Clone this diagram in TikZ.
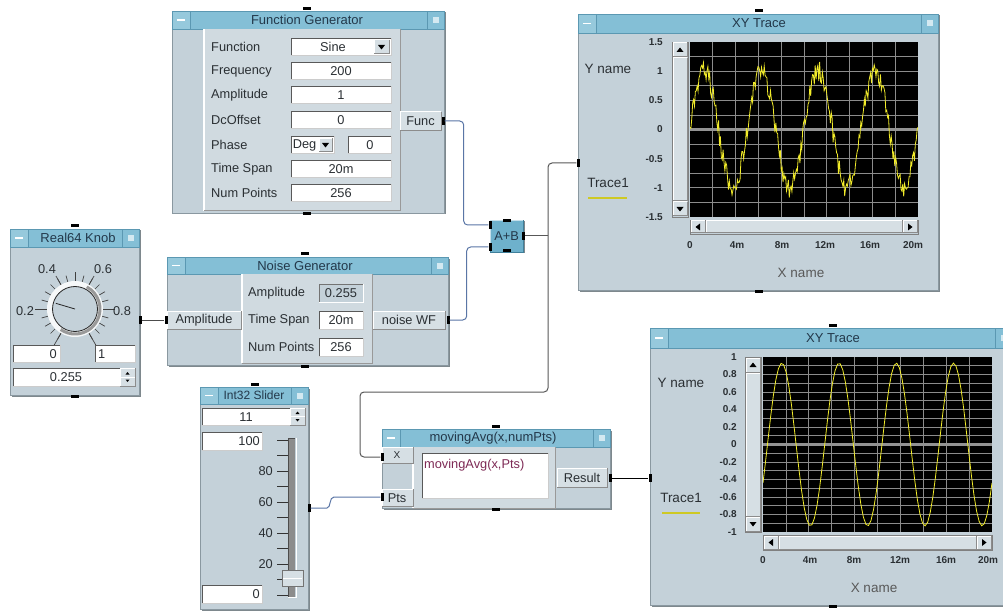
\documentclass[tikz,border=0pt]{standalone}
\usepackage{fontspec}
\setmainfont{Liberation Sans}
\usetikzlibrary{calc}
\definecolor{bodyc}{HTML}{C4D1D9}
\definecolor{panelc}{HTML}{D0DAE0}
\definecolor{btnc}{HTML}{D6DFE4}
\definecolor{titlec}{HTML}{84BFD6}
\definecolor{titleedge}{HTML}{5B98B2}
\definecolor{edgec}{HTML}{8A98A0}
\definecolor{shadc}{HTML}{7E888D}
\definecolor{wireb}{HTML}{5A76A6}
\definecolor{wirek}{HTML}{2E2E2E}
\definecolor{txtc}{HTML}{2A2F33}
\definecolor{ttlc}{HTML}{23384A}
\definecolor{trc}{HTML}{F2EC2A}
\definecolor{gridc}{HTML}{8C8C8C}
\definecolor{abfill}{HTML}{6EB1CC}
\definecolor{abedge}{HTML}{3F7F9A}
\definecolor{formc}{HTML}{7E2A55}
\tikzset{
  lbl/.style={font=\fontsize{12.8}{14}\selectfont, text=txtc, inner sep=0pt},
  big/.style={font=\fontsize{13.5}{15}\selectfont, text=txtc, inner sep=0pt},
  ttl/.style={font=\fontsize{13}{15}\selectfont, text=ttlc, inner sep=0pt},
  axl/.style={font=\bfseries\fontsize{10}{11}\selectfont, text=txtc, inner sep=0pt},
  pinv/.style={fill=black, inner sep=0pt, minimum width=3pt, minimum height=8pt},
  pinh/.style={fill=black, inner sep=0pt, minimum width=8pt, minimum height=3pt},
  wire/.style={line width=1pt, rounded corners=4pt},
}
% field: x1 y1(top) x2 y2(bottom)
\newcommand\vfield[4]{\fill[white] ({#1},{#2}) rectangle ({#3},{#4});
  \draw[black!65, line width=1pt] ({#1},{#4}) -- ({#1},{#2}) -- ({#3},{#2});
  \draw[black!20, line width=0.8pt] ({#3},{#2}) -- ({#3},{#4}) -- ({#1},{#4});}
\newcommand\vgfield[4]{\fill[bodyc] ({#1},{#2}) rectangle ({#3},{#4});
  \draw[black!55, line width=1pt] ({#1},{#4}) -- ({#1},{#2}) -- ({#3},{#2});
  \draw[white, line width=0.8pt] ({#3},{#2}) -- ({#3},{#4}) -- ({#1},{#4});}
\newcommand\vbtn[4]{\fill[btnc] ({#1},{#2}) rectangle ({#3},{#4});
  \draw[white, line width=1pt] ({#1},{#4}) -- ({#1},{#2}) -- ({#3},{#2});
  \draw[black!45, line width=1pt] ({#3},{#2}) -- ({#3},{#4}) -- ({#1},{#4});}
\newcommand\vpanel[4]{\fill[panelc] ({#1},{#2}) rectangle ({#3},{#4});
  \draw[white, line width=1.3pt] ({#1},{#4}) -- ({#1},{#2});
  \draw[black!40, line width=1pt] ({#3},{#2}) -- ({#3},{#4}) -- ({#1},{#4});}
\newcommand\vdown[2]{\fill[black] ({#1-3.5},{#2-2}) -- ({#1+3.5},{#2-2}) -- ({#1},{#2+2.5}) -- cycle;}
\newcommand\vup[2]{\fill[black] ({#1-3.5},{#2+2}) -- ({#1+3.5},{#2+2}) -- ({#1},{#2-2.5}) -- cycle;}
\newcommand\vleft[2]{\fill[black] ({#1+2},{#2-3.5}) -- ({#1+2},{#2+3.5}) -- ({#1-2.5},{#2}) -- cycle;}
\newcommand\vright[2]{\fill[black] ({#1-2},{#2-3.5}) -- ({#1-2},{#2+3.5}) -- ({#1+2.5},{#2}) -- cycle;}
\newcommand\vdrop[4]{\vbtn{#1}{#2}{#3}{#4}\vdown{(#1+#3)/2}{(#2+#4)/2}}
% window: name x1 y1 x2 y2 titlebottom title titlex
\newcommand\vwin[8]{%
  \fill[shadc] ({#2+1.5},{#3+1.5}) rectangle ({#4+1.5},{#5+1.5});
  \node[draw=edgec, fill=bodyc, inner sep=0pt, outer sep=0pt, anchor=north west,
        minimum width={(#4-#2)*1pt}, minimum height={(#5-#3)*1pt}] (#1) at ({#2},{#3}) {};
  \filldraw[fill=titlec, draw=titleedge] ({#2},{#3}) rectangle ({#4},{#6});
  \filldraw[fill=titlec!85!white, draw=titleedge] ({#2},{#3}) rectangle ({#2+18},{#6});
  \draw[white, line width=1.6pt] ({#2+5},{(#3+#6)/2}) -- ({#2+13},{(#3+#6)/2});
  \filldraw[fill=titlec, draw=titleedge] ({#4-17},{#3}) rectangle ({#4},{#6});
  \fill[white!65!titlec] ({#4-11},{(#3+#6)/2-3}) rectangle ({#4-5},{(#3+#6)/2+3});
  \node[ttl] (#1-title) at ({#8},{(#3+#6)/2}) {#7};}
\newcommand\vspin[4]{\vbtn{#1}{#2}{#3}{(#2+#4)/2}\vbtn{#1}{(#2+#4)/2}{#3}{#4}
  \fill[black] ({(#1+#3)/2-2},{(#2+#4)/2-2.5}) -- ({(#1+#3)/2+2},{(#2+#4)/2-2.5}) -- ({(#1+#3)/2},{(#2+#4)/2-5}) -- cycle;
  \fill[black] ({(#1+#3)/2-2},{(#2+#4)/2+2.5}) -- ({(#1+#3)/2+2},{(#2+#4)/2+2.5}) -- ({(#1+#3)/2},{(#2+#4)/2+5}) -- cycle;}
\begin{document}
\begin{tikzpicture}[x=1pt,y=-1pt]
\clip (0,0) rectangle (1003,612);
\fill[white] (0,0) rectangle (1003,612);
\pgfmathsetseed{7}

% ================= Function Generator
\vwin{fg}{172}{11}{444}{213}{29}{Function Generator}{307}
\vpanel{204}{29}{400}{211}
\foreach \lab/\yy in {Function/47, Frequency/71, Amplitude/95, DcOffset/120, Phase/145, Time Span/169, Num Points/193}
  \node[lbl, anchor=west] (fgl\yy) at (211,\yy) {\lab};
\foreach \yy in {47,71,95,120,169,193} {\vfield{291}{\yy-8.5}{391}{\yy+8.5}}
\vdrop{374}{40}{389}{54}
\vfield{291}{136.5}{334}{153.5}
\vdrop{319}{138.5}{332}{151.5}
\vfield{348}{136.5}{391}{153.5}
\node[lbl] (fgv1) at (333,47) {Sine};
\node[lbl] (fgv2) at (341,71) {200};
\node[lbl] (fgv3) at (341,95) {1};
\node[lbl] (fgv4) at (341,120) {0};
\node[lbl] (fgv5) at (304.5,145) {Deg};
\node[lbl] (fgv6) at (370,145) {0};
\node[lbl] (fgv7) at (341,169) {20m};
\node[lbl] (fgv8) at (341,193) {256};
\vbtn{400}{112}{441}{131}
\node[lbl] (fgfunc) at (420.5,121.5) {Func};
\node[pinv] (fgout) at (443,121) {};
\node[pinh] (fgtop) at (307,8.5) {};
\node[pinh] (fgbot) at (307,214) {};

% ================= Real64 Knob
\vwin{knob}{10}{229}{139}{395}{247}{Real64 Knob}{78}
\foreach \k in {0,...,20} {
  \pgfmathsetmacro\ang{240-15*\k}
  \draw[black!75, line width=0.7pt] (75,309) ++({-\ang}:28) -- ++({-\ang}:6.5);
}
\foreach \k/\len in {0/14, 4/12, 8/10, 10/9, 12/10, 16/12, 20/14} {
  \pgfmathsetmacro\ang{240-15*\k}
  \draw[black!75, line width=0.7pt] (75,309) ++({-\ang}:28) -- ++({-\ang}:\len);
}
\fill[white!85!bodyc] (75,309) circle (28);
\draw[black!40, line width=3pt] (75,309) ++(-62:25) arc[start angle=-62, end angle=125, radius=25];
\filldraw[fill=bodyc, draw=black!85, line width=0.8pt] (75,309) circle (22.5);
\draw[black!85, line width=0.8pt] (75,309) -- +(-163.5:20);
\node[lbl] (kl2) at (25,311) {0.2};
\node[lbl] (kl4) at (47,269) {0.4};
\node[lbl] (kl6) at (103,269) {0.6};
\node[lbl] (kl8) at (122,311) {0.8};
\vfield{13}{345}{60}{362}
\vfield{95}{345}{135}{362}
\node[lbl, anchor=east] (kmin) at (57,354) {0};
\node[lbl, anchor=west] (kmax) at (98,354) {1};
\vfield{13}{368}{120}{386}
\vspin{120}{368}{135}{386}
\node[lbl] (kval) at (66,377) {0.255};
\node[pinv] (knobout) at (140,320) {};
\node[pinh] (knobtop) at (75,226) {};
\node[pinh] (knobbot) at (75,396) {};

% ================= Noise Generator
\vwin{noise}{167}{257}{448}{365}{274}{Noise Generator}{305}
\vpanel{242}{274}{372}{363}
\node[lbl, anchor=west] (nl1) at (248,293) {Amplitude};
\node[lbl, anchor=west] (nl2) at (248,320) {Time Span};
\begin{scope}
\clip (240,330) rectangle (317,360);
\node[lbl, anchor=west] (nl3) at (248,347) {Num Points};
\end{scope}
\vgfield{319}{284}{363}{302}
\vfield{319}{311}{363}{329}
\vfield{319}{338}{363}{356}
\node[lbl] (nv1) at (341,293) {0.255};
\node[lbl] (nv2) at (341,320) {20m};
\node[lbl] (nv3) at (341,347) {256};
\vbtn{167}{311}{241}{329}
\vbtn{373}{311}{445}{329}
\node[lbl] (nampin) at (204,320) {Amplitude};
\node[lbl] (nwf) at (409,320) {noise WF};
\node[pinv] (noisein) at (166,320) {};
\node[pinv] (noiseout) at (448,320) {};
\node[pinh] (noisetop) at (305,254) {};
\node[pinh] (noisebot) at (305,366) {};

% ================= A+B
\fill[shadc] (491.5,221.5) rectangle (524.5,253.5);
\node[draw=abedge, fill=abfill, inner sep=0pt, anchor=north west, minimum width=33pt, minimum height=32pt,
      font=\fontsize{12.8}{14}\selectfont, text=ttlc] (ab) at (490,220) {A+B};
\draw[white!60!abfill, line width=1pt] (490.5,251.5) -- (490.5,220.5) -- (522.5,220.5);
\node[pinv] (abinA) at (490,225) {};
\node[pinv] (abinB) at (490,247) {};
\node[pinv] (about) at (523,236) {};
\node[pinh] (abtop) at (507,221) {};
\node[pinh] (abbot) at (507,251) {};

% ================= XY Trace 1
\vwin{xy1}{578}{14}{938}{290}{33}{XY Trace}{759}
\fill[black] (690,42) rectangle (918,217);
\begin{scope}
\clip (690,42) rectangle (918,217);
\foreach \i in {1,...,9} \draw[gridc, line width=0.8pt] ({690+22.8*\i},42) -- ++(0,175);
\foreach \j in {1,...,11} \draw[gridc, line width=0.8pt] (690,{42+175/12*\j}) -- ++(228,0);
\draw[gray!85, line width=2.5pt] (690,129.5) -- (918,129.5);
\draw[trc, line width=0.8pt] plot[domain=0:20, samples=256, variable=\t] ({690+11.4*\t},{129.5-58.33*(sin(72*\t)+0.17*rand)});
\end{scope}
\filldraw[fill=bodyc, draw=black!50] (672,42) rectangle (688,217);
\vbtn{673}{58}{687}{201}
\vbtn{673}{43}{687}{57}\vup{680}{50}
\vbtn{673}{202}{687}{216}\vdown{680}{209}
\filldraw[fill=bodyc, draw=black!50] (690,220) rectangle (918,234);
\vbtn{706}{221}{902}{233}
\vbtn{691}{221}{705}{233}\vleft{698}{227}
\vbtn{903}{221}{917}{233}\vright{910}{227}
\foreach \v/\lab [count=\c] in {0/1.5, 1/1, 2/0.5, 3/0, 4/-0.5, 5/-1, 6/-1.5}
  \node[axl, anchor=east] (y1l\c) at (663,{42+29.17*\v}) {\lab};
\foreach \xx/\lab [count=\c] in {690/0, 737/4m, 782/8m, 825/12m, 870/16m, 913/20m}
  \node[axl] (x1l\c) at (\xx,245) {\lab};
\node[big] (xy1yn) at (608,69) {Y name};
\node[big] (xy1tr) at (608,183) {Trace1};
\draw[trc!85!black, line width=1.5pt] (588,198) -- (627,198);
\node[big, text=black!65] (xy1xn) at (801,273) {X name};
\node[pinv] (xy1in) at (578,163) {};
\node[pinh] (xy1top) at (759,11) {};
\node[pinh] (xy1bot) at (759,291) {};

% ================= Int32 Slider
\vwin{slider}{200}{387}{308}{609}{404}{\fontsize{12}{14}\selectfont Int32 Slider}{254}
\vfield{202}{408}{290}{425}
\vspin{290}{408}{305}{425}
\node[lbl] (sv) at (246,417) {11};
\vfield{202}{432}{262}{450}
\node[lbl, anchor=east] (smax) at (260,441) {100};
\vfield{202}{585}{262}{603}
\node[lbl, anchor=east] (smin) at (260,594) {0};
\fill[black!45] (288,438) rectangle (295,597);
\draw[white, line width=1pt] (296,438) -- (296,597) -- (288,597);
\draw[black!70, line width=0.8pt] (288,597) -- (288,438) -- (295,438);
\foreach \k in {0,...,10} \draw[black!80, line width=0.8pt] (277,{440+15.5*\k}) -- (288,{440+15.5*\k});
\foreach \k/\lab in {2/80, 4/60, 6/40, 8/20}
  \node[lbl, anchor=east] (sl\lab) at (273,{440+15.5*\k}) {\lab};
\filldraw[fill=btnc, draw=black!55] (282,570) rectangle (303,586);
\draw[white, line width=1pt] (283,578) -- (302,578);
\node[pinv] (slout) at (309,508) {};
\node[pinh] (sltop) at (255,384) {};

% ================= movingAvg
\vwin{ma}{382}{429}{610}{508}{447}{movingAvg(x,numPts)}{493}
\vpanel{413}{447}{555}{508}
\vfield{422}{453}{548}{498}
\node[lbl, text=formc, anchor=west] (maform) at (424,465) {movingAvg(x,Pts)};
\vbtn{382}{447}{413}{463}
\node[lbl, font=\fontsize{10}{12}\selectfont] (max) at (397,455) {X};
\vbtn{382}{489}{413}{506}
\node[lbl] (mapts) at (397,498) {Pts};
\vbtn{557}{468}{607}{487}
\node[lbl] (mares) at (582,478) {Result};
\node[pinv] (maX) at (382,457) {};
\node[pinv] (maPts) at (382,497) {};
\node[pinv] (maout) at (610,478) {};
\node[pinh] (matop) at (496,426) {};
\node[pinh] (mabot) at (496,509) {};

% ================= XY Trace 2
\vwin{xy2}{650}{328}{1012}{605}{348}{XY Trace}{833}
\fill[black] (763,357) rectangle (992,532);
\begin{scope}
\clip (763,357) rectangle (992,532);
\foreach \i in {1,...,9} \draw[gridc, line width=0.8pt] ({763+22.9*\i},357) -- ++(0,175);
\foreach \j in {1,...,19} \draw[gridc, line width=0.8pt] (763,{357+8.75*\j}) -- ++(229,0);
\draw[gray!85, line width=2.5pt] (763,444.5) -- (992,444.5);
\draw[trc, line width=0.8pt] plot[domain=0:20, samples=90, variable=\t] ({763+11.45*\t},{444.5-87.5*0.93*sin(72*(\t-0.39))});
\end{scope}
\filldraw[fill=bodyc, draw=black!50] (745,357) rectangle (761,532);
\vbtn{746}{373}{760}{516}
\vbtn{746}{358}{760}{372}\vup{753}{365}
\vbtn{746}{517}{760}{531}\vdown{753}{524}
\filldraw[fill=bodyc, draw=black!50] (763,535) rectangle (992,550);
\vbtn{779}{536}{976}{549}
\vbtn{764}{536}{778}{549}\vleft{771}{542.5}
\vbtn{977}{536}{991}{549}\vright{984}{542.5}
\foreach \v/\lab [count=\c] in {0/1, 1/0.8, 2/0.6, 3/0.4, 4/0.2, 5/0, 6/-0.2, 7/-0.4, 8/-0.6, 9/-0.8, 10/-1}
  \node[axl, anchor=east] (y2l\c) at (737,{357+17.5*\v}) {\lab};
\foreach \xx/\lab [count=\c] in {763/0, 810/4m, 854/8m, 900/12m, 946/16m, 988/20m}
  \node[axl] (x2l\c) at (\xx,560) {\lab};
\node[big] (xy2yn) at (681,383) {Y name};
\node[big] (xy2tr) at (681,498) {Trace1};
\draw[trc!85!black, line width=1.5pt] (662,513) -- (700,513);
\node[big, text=black!65] (xy2xn) at (874,588) {X name};
\node[pinv] (xy2in) at (650,478) {};
\node[pinh] (xy2top) at (833,325) {};
\node[pinh] (xy2bot) at (833,606) {};

% ================= connectors
\draw[wire, wireb] (fgout.east) -- ++(19,0) |- (abinA.west);
\draw[wire, wireb] (noiseout.east) -- ++(17,0) |- (abinB.west);
\draw[line width=1pt, black!70] (knobout.east) -- (noisein.west);
\coordinate (jn) at (548,236);
\coordinate (j2) at (360,392);
\draw[wire, wirek!80] (about.east) -- (jn);
\draw[wire, wirek!80] (jn) |- (xy1in.west);
\draw[wire, wirek!80] (jn) |- (j2) |- (maX.west);
\draw[line width=1pt, wireb] (slout.east) -- (327,508) .. controls (331,508) and (329,497) .. (334,497) -- (maPts.west);
\draw[line width=1pt, black] (maout.east) -- (xy2in.west);
\end{tikzpicture}
\end{document}
